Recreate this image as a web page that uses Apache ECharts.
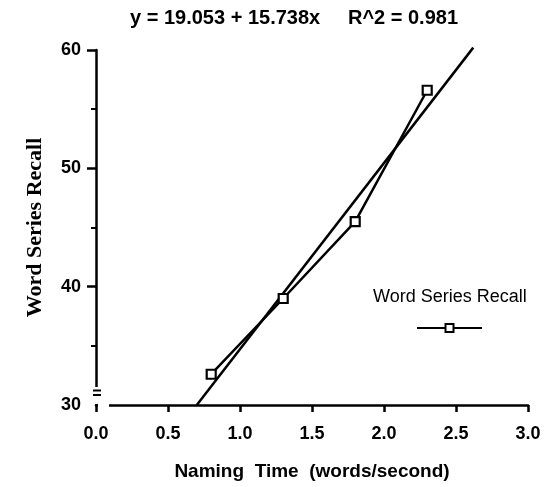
<!DOCTYPE html>
<html>
<head>
<meta charset="utf-8">
<script src="https://cdn.jsdelivr.net/npm/echarts@6/dist/echarts.min.js"></script>
<style>html,body{margin:0;padding:0;background:#fff;}#c{width:547px;height:487px;}</style>
</head>
<body>
<div id="c"></div>
<script>
// ---- data ----
var namingTime = [0.8, 1.3, 1.8, 2.3];          // words/second
var wordSeriesRecall = [32.6, 39.0, 45.5, 56.6];
var fitLineX = [0.70, 2.62];                     // regression line ends
var fitLineY = [30, 60.2];
var xTicks = ['0.0', '0.5', '1.0', '1.5', '2.0', '2.5', '3.0'];
var yTickValues = [40, 50, 60];
var titleText = 'y = 19.053 + 15.738x     R^2 = 0.981';
var seriesName = 'Word Series Recall';

var pts = namingTime.map(function (x, i) { return [x, wordSeriesRecall[i]]; });
var fit = fitLineX.map(function (x, i) { return [x, fitLineY[i]]; });

var sans = 'Liberation Sans';
var serif = 'Liberation Serif';
var chart = echarts.init(document.getElementById('c'), null, {renderer: 'canvas'});
chart.setOption({
  animation: false,
  backgroundColor: '#fff',
  title: [
    {text: titleText, left: 125, top: 3,
     textStyle: {fontFamily: sans, fontSize: 20, fontWeight: 'bold', color: '#000'}},
    {text: seriesName, left: 368, top: 283,
     textStyle: {fontFamily: sans, fontSize: 18, fontWeight: 'normal', color: '#000'}}
  ],
  legend: {
    data: [seriesName], left: 411, top: 318, itemWidth: 65, itemHeight: 10,
    formatter: function () { return ''; }, selectedMode: false
  },
  grid: {left: 96, right: 19, top: 50, bottom: 82},
  xAxis: {
    type: 'value', min: 0, max: 3, interval: 0.5,
    name: 'Naming  Time  (words/second)', nameLocation: 'middle', nameGap: 57,
    nameTextStyle: {fontFamily: sans, fontSize: 19, fontWeight: 'bold', color: '#000'},
    axisLine: {lineStyle: {color: '#000', width: 2.5}},
    axisTick: {inside: false, length: 7, lineStyle: {color: '#000', width: 2.5}},
    axisLabel: {margin: 20, fontFamily: sans, fontSize: 18, fontWeight: 'bold', color: '#000',
      formatter: function (v) { var s = v.toFixed(1); return xTicks.indexOf(s) >= 0 ? s : ''; }},
    splitLine: {show: false}
  },
  yAxis: {
    type: 'value', min: 30, max: 60, interval: 10,
    name: seriesName, nameLocation: 'middle', nameGap: 50,
    nameTextStyle: {fontFamily: serif, fontSize: 22, fontWeight: 'bold', color: '#000'},
    axisLine: {show: true, lineStyle: {color: '#000', width: 2.5}},
    axisTick: {show: true, inside: false, length: 9, customValues: yTickValues,
      lineStyle: {color: '#000', width: 2.5}},
    minorTick: {show: true, splitNumber: 2, length: 5, lineStyle: {color: '#000', width: 2}},
    axisLabel: {margin: 15, fontFamily: sans, fontSize: 18, fontWeight: 'bold', color: '#000'},
    splitLine: {show: false}, minorSplitLine: {show: false}
  },
  series: [
    {
      name: 'fit', type: 'line', data: fit, symbol: 'none', clip: false,
      lineStyle: {color: '#000', width: 2.5}, z: 2
    },
    {
      name: seriesName, type: 'line', data: pts,
      symbol: 'rect', symbolSize: 9, showAllSymbol: true,
      lineStyle: {color: '#000', width: 2.5},
      itemStyle: {color: '#fff', borderColor: '#000', borderWidth: 2.2}, z: 3
    }
  ],
  graphic: [
    {type: 'rect', z: 100, shape: {x: 91, y: 387, width: 11, height: 17}, style: {fill: '#fff'}},
    {type: 'rect', z: 100, shape: {x: 98, y: 402, width: 11, height: 5}, style: {fill: '#fff'}},
    {type: 'line', z: 101, shape: {x1: 93, y1: 390.5, x2: 101, y2: 390.5}, style: {stroke: '#000', lineWidth: 2}},
    {type: 'line', z: 101, shape: {x1: 93, y1: 395, x2: 101, y2: 395}, style: {stroke: '#000', lineWidth: 2}}
  ]
});
</script>
</body>
</html>
